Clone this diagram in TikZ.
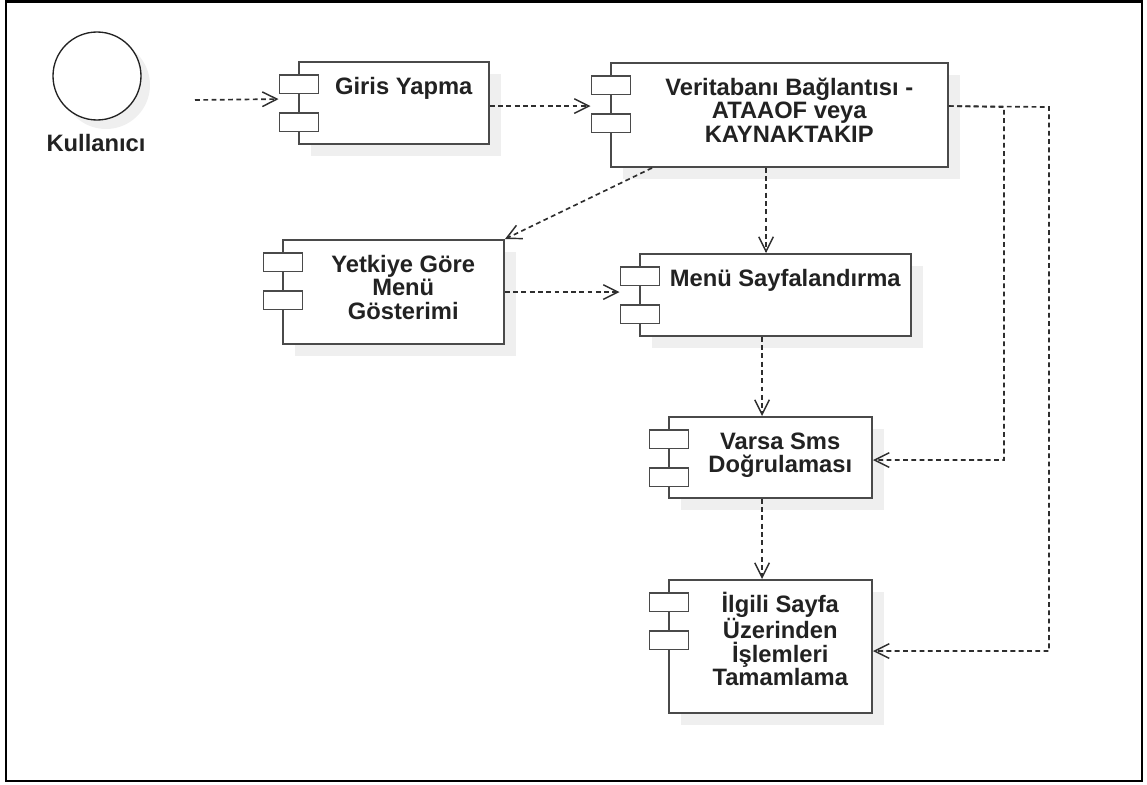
\documentclass[tikz,border=0pt]{standalone}
\usepackage{fontspec}
\setmainfont{Liberation Sans}
\usetikzlibrary{arrows.meta,calc,fit}

\definecolor{edgegray}{HTML}{4A4A4A}
\definecolor{linkgray}{HTML}{2E2E2E}
\definecolor{shadowgray}{HTML}{EFEFEF}
\definecolor{inkgray}{HTML}{222222}

\tikzset{
  compbox/.style={draw=edgegray, line width=1.4pt, fill=white, inner sep=0pt},
  iconbox/.style={draw=edgegray, line width=1.4pt, fill=white},
  boxshadow/.style={fill=shadowgray},
  labelfont/.style={text=inkgray, font=\fontsize{17.8pt}{17.6pt}\selectfont\bfseries},
  comptext/.style={labelfont, anchor=north, inner sep=0pt, align=center},
  dep/.style={draw=linkgray, line width=1.25pt, dash pattern=on 3.6pt off 2.6pt,
    -{Straight Barb[length=11pt,width=11pt,line width=1.1pt]}},
}

% component box: name, left, top, right, bottom, label
\newcommand\umlcomponent[6]{%
  \fill[boxshadow] (#2+12,#3+12) rectangle (#4+12,#5+12);
  \node[compbox, fit={(#2,#3) (#4,#5)}] (#1) {};
  \draw[iconbox] (#2-19.5,#3+13) rectangle (#2+19.5,#3+31.5);
  \draw[iconbox] (#2-19.5,#3+51) rectangle (#2+19.5,#3+69.5);
  \node[comptext] (#1-label) at ({(#2+19.5+#4)/2},#3+9.3) {\rule{0pt}{17pt}#6};
}

\begin{document}
\begin{tikzpicture}[x=0.75pt,y=-0.75pt]
\useasboundingbox (0,0) rectangle (1147,785);
\draw[black, line width=1.6pt] (6,1.5) rectangle (1142,781);

% actor
\fill[boxshadow] (106,85) circle (44);
\node[draw=inkgray, line width=1pt, fill=white, circle, inner sep=0pt,
      minimum size=66pt] (kul) at (97,76) {};
\node[labelfont, inner sep=0pt] (kul-label) at (96,143) {Kullanıcı};

% components
\umlcomponent{giris}{299}{62}{489}{144}{Giris Yapma}
\umlcomponent{vt}{611}{63}{948}{167}{Veritabanı Bağlantısı -\\ATAAOF veya\\KAYNAKTAKIP}
\umlcomponent{yet}{283}{240}{504}{344}{Yetkiye Göre\\Menü\\Gösterimi}
\umlcomponent{menu}{640}{254}{911}{336}{Menü Sayfalandırma}
\umlcomponent{sms}{669}{417}{872}{498}{Varsa Sms\\Doğrulaması}
\umlcomponent{ilg}{669}{580}{872}{713}{İlgili Sayfa\\Üzerinden\\İşlemleri\\Tamamlama}

% dependencies
\coordinate (kulout) at (195,100);
\coordinate (busA) at (1004,107);
\coordinate (busB) at (1049,107);

\draw[dep] (kulout) -- ($(giris.north west)+(-19.5,38)$);
\draw[dep] ($(giris.north east)+(0,45)$) -- ($(vt.north west)+(-19.5,44)$);
\draw[dep] ($(vt.south west)+(42,0)$) -- (yet.north east);
\draw[dep] ($(vt.south west)+(156,0)$) -- ($(menu.north west)+(127,0)$);
\draw[dep] ($(yet.north east)+(0,53)$) -- ($(menu.north west)+(-19.5,39)$);
\draw[dep] ($(menu.south west)+(123,0)$) -- ($(sms.north west)+(94,0)$);
\draw[dep] ($(sms.south west)+(94,0)$) -- ($(ilg.north west)+(94,0)$);
\draw[dep] ($(vt.north east)+(0,44)$) -- (busA) |- ($(sms.north east)+(0,44)$);
\draw[dep] ($(vt.north east)+(0,44)$) -- (busB) |- ($(ilg.north east)+(0,72)$);
\end{tikzpicture}
\end{document}
